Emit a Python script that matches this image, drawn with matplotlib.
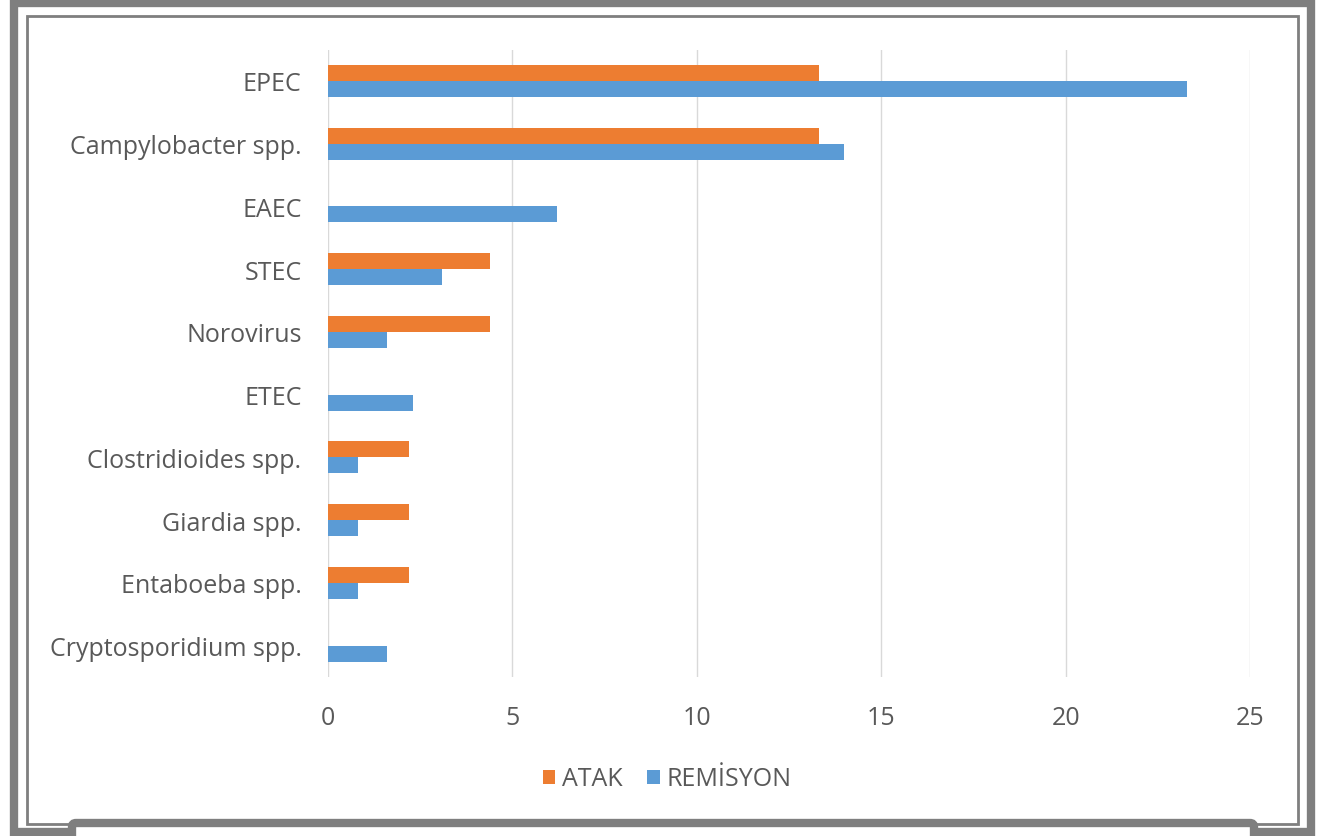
import matplotlib
matplotlib.use("Agg")
import matplotlib.pyplot as plt
import numpy as np
from matplotlib.patches import Rectangle, FancyBboxPatch

plt.rcParams['font.family'] = ['Open Sans', 'DejaVu Sans']

# pathogen rates per group
pathogens = ["EPEC", "Campylobacter spp.", "EAEC", "STEC", "Norovirus", "ETEC",
             "Clostridioides spp.", "Giardia spp.", "Entaboeba spp.", "Cryptosporidium spp."]
atak = [13.3, 13.3, 0, 4.4, 4.4, 0, 2.2, 2.2, 2.2, 0]
remisyon = [23.3, 14.0, 6.2, 3.1, 1.6, 2.3, 0.8, 0.8, 0.8, 1.6]
xticks = [0, 5, 10, 15, 20, 25]

orange = "#ED7D31"
blue = "#5B9BD5"
txt = "#595959"

fig = plt.figure(figsize=(13.24, 8.37), dpi=100)

# frame around the chart, drawn in pixel coordinates
bg = fig.add_axes([0, 0, 1, 1])
bg.set_xlim(0, 1324)
bg.set_ylim(837, 0)
bg.axis("off")
bg.add_patch(Rectangle((14, 4), 1297, 829, fill=False, ec="#7f7f7f", lw=6))
bg.add_patch(Rectangle((27, 17), 1271, 808, fill=False, ec="#7f7f7f", lw=2))
bg.add_patch(FancyBboxPatch((72, 824), 1182, 40, boxstyle="round,pad=0,rounding_size=4",
                            fc="white", ec="#7f7f7f", lw=6, zorder=5))

ax = fig.add_axes([328 / 1324, 1 - 678 / 837, 922 / 1324, 627.4 / 837])
y = np.arange(len(pathogens))
h = 0.255
ax.barh(y - h / 2, atak, height=h, color=orange, label="ATAK", zorder=3)
ax.barh(y + h / 2, remisyon, height=h, color=blue, label="REMİSYON", zorder=3)

ax.set_ylim(len(pathogens) - 0.5, -0.5)
ax.set_xlim(0, 25)
ax.set_xticks(xticks)
ax.set_xticklabels([str(t) for t in xticks])
ax.set_yticks(y)
ax.set_yticklabels(pathogens)
ax.grid(axis="x", color="#d9d9d9", lw=1, zorder=0)
for s in ax.spines.values():
    s.set_visible(False)
ax.tick_params(axis="both", length=0, colors=txt, labelsize=18)
ax.tick_params(axis="y", pad=19)
ax.tick_params(axis="x", pad=20)

leg = ax.legend(loc="center", bbox_to_anchor=(667 / 1324, 1 - 780 / 837), bbox_transform=fig.transFigure,
                ncol=2, frameon=False, fontsize=18, handlelength=0.5, handleheight=0.5,
                handletextpad=0.25, columnspacing=1.0)
for t in leg.get_texts():
    t.set_color(txt)

fig.savefig("out.png", dpi=100, facecolor="white")
